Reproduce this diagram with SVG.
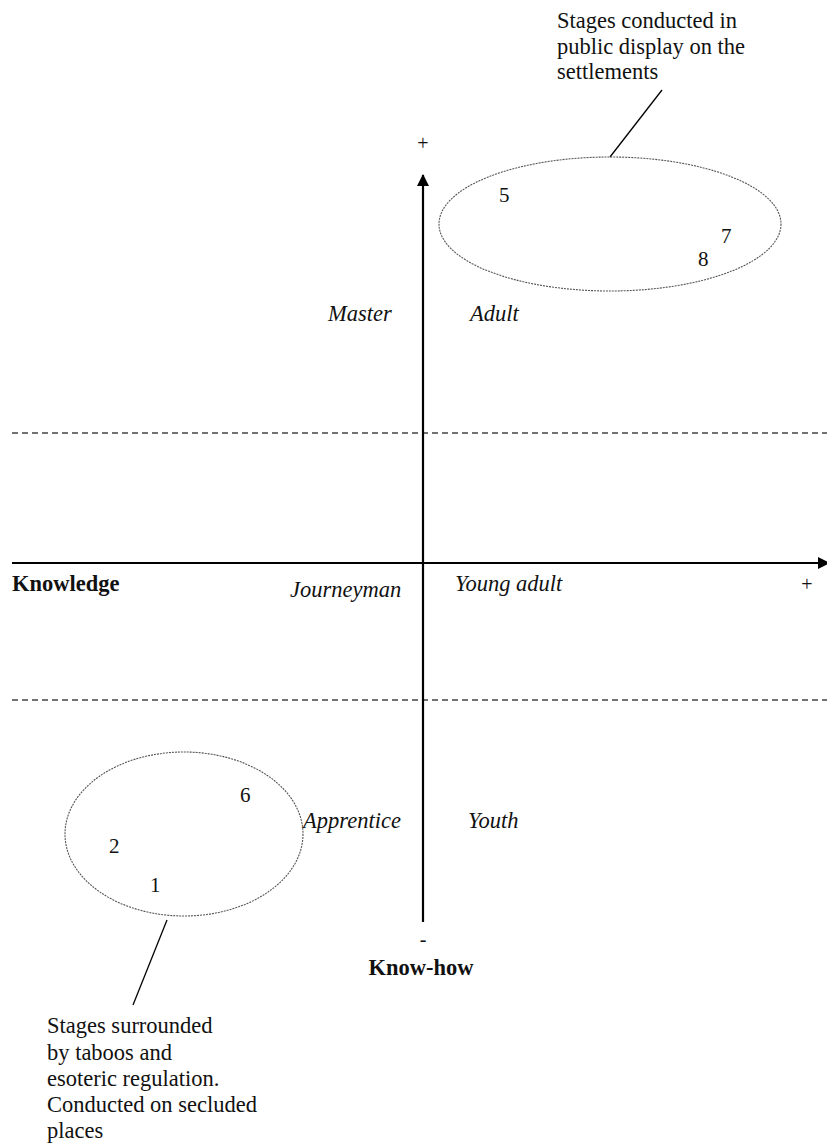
<svg xmlns="http://www.w3.org/2000/svg" width="827" height="1146" viewBox="0 0 827 1146">
<style>
text{font-family:"Liberation Serif","Times New Roman",serif;font-size:22.5px;fill:#111}
.num{font-size:21px}
.it{font-style:italic}
.b{font-weight:bold}
.dash{stroke:#444;stroke-width:1.5;stroke-dasharray:6 4;fill:none}
.axis{stroke:#000;stroke-width:2.2;fill:none}
.ell{stroke:#555;stroke-width:1.1;stroke-dasharray:2 1;fill:none}
.lead{stroke:#000;stroke-width:1.3;fill:none}
</style>
<defs>
<marker id="ah" viewBox="0 0 12 12" refX="11" refY="6" markerWidth="12" markerHeight="12" markerUnits="userSpaceOnUse" orient="auto">
<path d="M0,0 L12,6 L0,12 Z" fill="#000"/>
</marker>
</defs>
<g id="connectors">
<line class="dash" x1="12" y1="433" x2="827" y2="433"/>
<line class="dash" x1="12" y1="700" x2="827" y2="700"/>
<line class="axis" x1="12" y1="563" x2="829" y2="563" marker-end="url(#ah)"/>
<line class="axis" x1="423" y1="922" x2="423" y2="175" marker-end="url(#ah)"/>
<line class="lead" x1="662" y1="90" x2="610" y2="157"/>
<line class="lead" x1="167" y1="920" x2="133" y2="1005"/>
</g>
<g id="top-cluster">
<ellipse class="ell" cx="610" cy="224" rx="171" ry="67"/>
<text class="num" x="499" y="202">5</text>
<text class="num" x="721" y="243">7</text>
<text class="num" x="698" y="266">8</text>
</g>
<g id="top-note">
<text x="557" y="28">Stages conducted in</text>
<text x="557" y="54">public display on the</text>
<text x="557" y="79">settlements</text>
</g>
<g id="bottom-cluster">
<ellipse class="ell" cx="184" cy="834" rx="119" ry="82"/>
<text class="num" x="240" y="802">6</text>
<text class="num" x="109" y="853">2</text>
<text class="num" x="150" y="892">1</text>
</g>
<g id="bottom-note">
<text x="47" y="1033">Stages surrounded</text>
<text x="47" y="1060">by taboos and</text>
<text x="47" y="1086">esoteric regulation.</text>
<text x="47" y="1112">Conducted on secluded</text>
<text x="47" y="1138">places</text>
</g>
<g id="axis-labels">
<text x="423" y="150" text-anchor="middle" style="font-size:20px">+</text>
<text x="807" y="591" text-anchor="middle" style="font-size:20px">+</text>
<text x="423" y="946" text-anchor="middle" style="font-size:20px">-</text>
<text class="b" x="12" y="591">Knowledge</text>
<text class="b" x="421" y="975" text-anchor="middle">Know-how</text>
</g>
<g id="stage-labels">
<text class="it" x="328" y="321">Master</text>
<text class="it" x="470" y="321">Adult</text>
<text class="it" x="290" y="597">Journeyman</text>
<text class="it" x="455" y="591">Young adult</text>
<text class="it" x="303" y="828">Apprentice</text>
<text class="it" x="468" y="828">Youth</text>
</g>
</svg>
